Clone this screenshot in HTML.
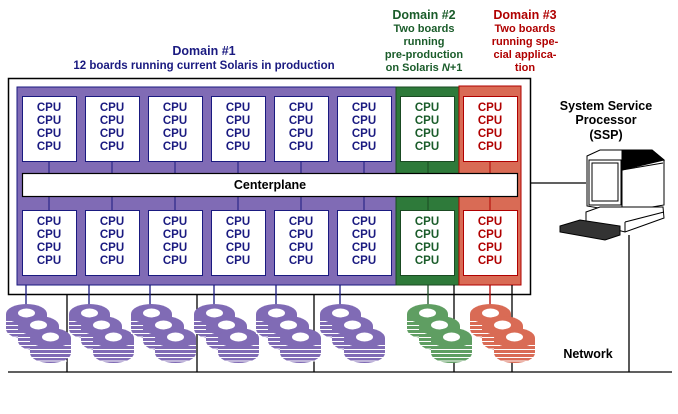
<!DOCTYPE html>
<html><head><meta charset="utf-8"><style>
body{margin:0;background:#fff;width:678px;height:409px;overflow:hidden}
svg text{font-family:"Liberation Sans",sans-serif;font-weight:bold}
</style></head><body>
<svg width="678" height="409" viewBox="0 0 678 409" xmlns="http://www.w3.org/2000/svg">
<defs>
<g id="disk">
 <ellipse cx="20.5" cy="25" rx="20.5" ry="10"/>
 <rect x="0" y="10" width="41" height="15"/>
 <g stroke="#fff" stroke-width="1">
  <path d="M0 17.5H41M0 21.5H41M0 25.5H41M0 29.5H41M4 33H37"/>
 </g>
 <ellipse cx="20.5" cy="10" rx="20.5" ry="10" />
 <ellipse cx="20.5" cy="9" rx="8.5" ry="4.5" fill="#fff"/>
</g>
<g id="stack">
 <use href="#disk" x="0" y="0"/>
 <use href="#disk" x="12" y="12"/>
 <use href="#disk" x="24" y="24"/>
</g>
</defs>

<!-- headers -->
<g font-size="12.5" text-anchor="middle">
<text x="204" y="55" fill="#1a1a80">Domain #1</text>
<text x="204" y="69" fill="#1a1a80" font-size="11.5">12 boards running current Solaris in production</text>
<text x="424" y="19" fill="#1a5c2a">Domain #2</text>
<g font-size="11" fill="#1a5c2a">
<text x="424" y="32">Two boards</text><text x="424" y="45">running</text><text x="424" y="58">pre-production</text><text x="424" y="71">on Solaris <tspan font-style="italic">N</tspan>+1</text></g>
<text x="525" y="19" fill="#b00000">Domain #3</text>
<g font-size="11" fill="#b00000">
<text x="525" y="32">Two boards</text><text x="525" y="45">running spe-</text><text x="525" y="58">cial applica-</text><text x="525" y="71">tion</text></g>
<text x="606" y="110" fill="#000">System Service</text>
<text x="606" y="124" fill="#000">Processor</text>
<text x="606" y="139" fill="#000">(SSP)</text>
<text x="588" y="358" fill="#000">Network</text>
</g>

<!-- outer box -->
<rect x="8.5" y="78.5" width="522" height="216" fill="none" stroke="#000" stroke-width="1.5"/>
<!-- domain panels -->
<rect x="17" y="87" width="379" height="198" fill="#806bb5" stroke="#1a1a80" stroke-width="1"/>
<rect x="396" y="87" width="63" height="198" fill="#2e7a3a" stroke="#1a4a22" stroke-width="1"/>
<rect x="459" y="86" width="62" height="199" fill="#d96b55" stroke="#b00000" stroke-width="1"/>

<!-- connectors to centerplane -->
<g stroke-width="1">
<g stroke="#1a1a80"><path d="M49 161V173M112 161V173M175 161V173M238 161V173M301 161V173M364 161V173M49 197V210M112 197V210M175 197V210M238 197V210M301 197V210M364 197V210"/></g>
<path d="M428 161V173M428 197V210" stroke="#1a4a22"/>
<path d="M490 161V173M490 197V210" stroke="#b00000"/>
</g>

<!-- centerplane -->
<rect x="22.5" y="173.5" width="495" height="23" fill="#fff" stroke="#000" stroke-width="1.2"/>
<text x="270" y="189" text-anchor="middle" font-size="12.5" fill="#000">Centerplane</text>

<!-- boards -->
<g fill="#fff" stroke="#1a1a80" stroke-width="1">
<rect x="22.5" y="96.5" width="54" height="65"/><rect x="85.5" y="96.5" width="54" height="65"/><rect x="148.5" y="96.5" width="54" height="65"/><rect x="211.5" y="96.5" width="54" height="65"/><rect x="274.5" y="96.5" width="54" height="65"/><rect x="337.5" y="96.5" width="54" height="65"/>
<rect x="22.5" y="210.5" width="54" height="65"/><rect x="85.5" y="210.5" width="54" height="65"/><rect x="148.5" y="210.5" width="54" height="65"/><rect x="211.5" y="210.5" width="54" height="65"/><rect x="274.5" y="210.5" width="54" height="65"/><rect x="337.5" y="210.5" width="54" height="65"/>
</g>
<rect x="400.5" y="96.5" width="54" height="65" fill="#fff" stroke="#1a4a22"/>
<rect x="400.5" y="210.5" width="54" height="65" fill="#fff" stroke="#1a4a22"/>
<rect x="463.5" y="96.5" width="54" height="65" fill="#fff" stroke="#b00000"/>
<rect x="463.5" y="210.5" width="54" height="65" fill="#fff" stroke="#b00000"/>
<g font-size="11.5" text-anchor="middle" id="cpus"></g>

<!-- lines below -->
<g stroke-width="1.3">
<g stroke="#1a1a80"><path d="M26 285V310M89 285V310M150 285V310M214 285V310M276 285V310M340 285V310"/></g>
<path d="M428 285V310" stroke="#1a4a22"/>
<path d="M490 285V310" stroke="#b00000"/>
<g stroke="#000"><path d="M67 295V372M197 295V372M314 295V372M454 285V372M512 285V372M629 235V372M531 183H586M8 372H672"/></g>
</g>

<!-- disks -->
<g fill="#806bb5">
<use href="#stack" x="6" y="304"/><use href="#stack" x="69" y="304"/><use href="#stack" x="131" y="304"/><use href="#stack" x="194" y="304"/><use href="#stack" x="256" y="304"/><use href="#stack" x="320" y="304"/>
</g>
<g fill="#5f9e62"><use href="#stack" x="407" y="304"/></g>
<g fill="#d96b55"><use href="#stack" x="470" y="304"/></g>

<!-- SSP computer -->
<g stroke="#000" stroke-width="1" fill="#fff">
<path d="M587 156 L600 150 L652 150 L664 160 L664 205 L622 212 L587 206 Z"/>
<rect x="589" y="160" width="32" height="45"/>
<rect x="592" y="163" width="26" height="38"/>
<path d="M622 170 L663 163 M622 212 V170" fill="none"/>
<path d="M622 150 L652 150 L664 160 L622 170 Z" fill="#000"/>
<path d="M586 212 L600 207 L663 207 L664 218 L625 232 L586 222 Z"/>
<path d="M625 222 L664 212 M625 222 V232" fill="none"/>
<path d="M560 226 L580 220 L620 226 L620 235 L605 240 L560 232 Z" fill="#333"/>
</g>

<script>
(function(){
 var g=document.getElementById('cpus');var ns='http://www.w3.org/2000/svg';
 var xs=[49,112,175,238,301,364,427,490];
 var cols=['#1a1a80','#1a1a80','#1a1a80','#1a1a80','#1a1a80','#1a1a80','#1a5c2a','#b00000'];
 [96,210].forEach(function(y0){
  xs.forEach(function(x,i){
   for(var k=0;k<4;k++){var t=document.createElementNS(ns,'text');t.setAttribute('x',x);t.setAttribute('y',y0+15+k*13);t.setAttribute('fill',cols[i]);t.textContent='CPU';g.appendChild(t);}
  });
 });
})();
</script>
</svg>
</body></html>
